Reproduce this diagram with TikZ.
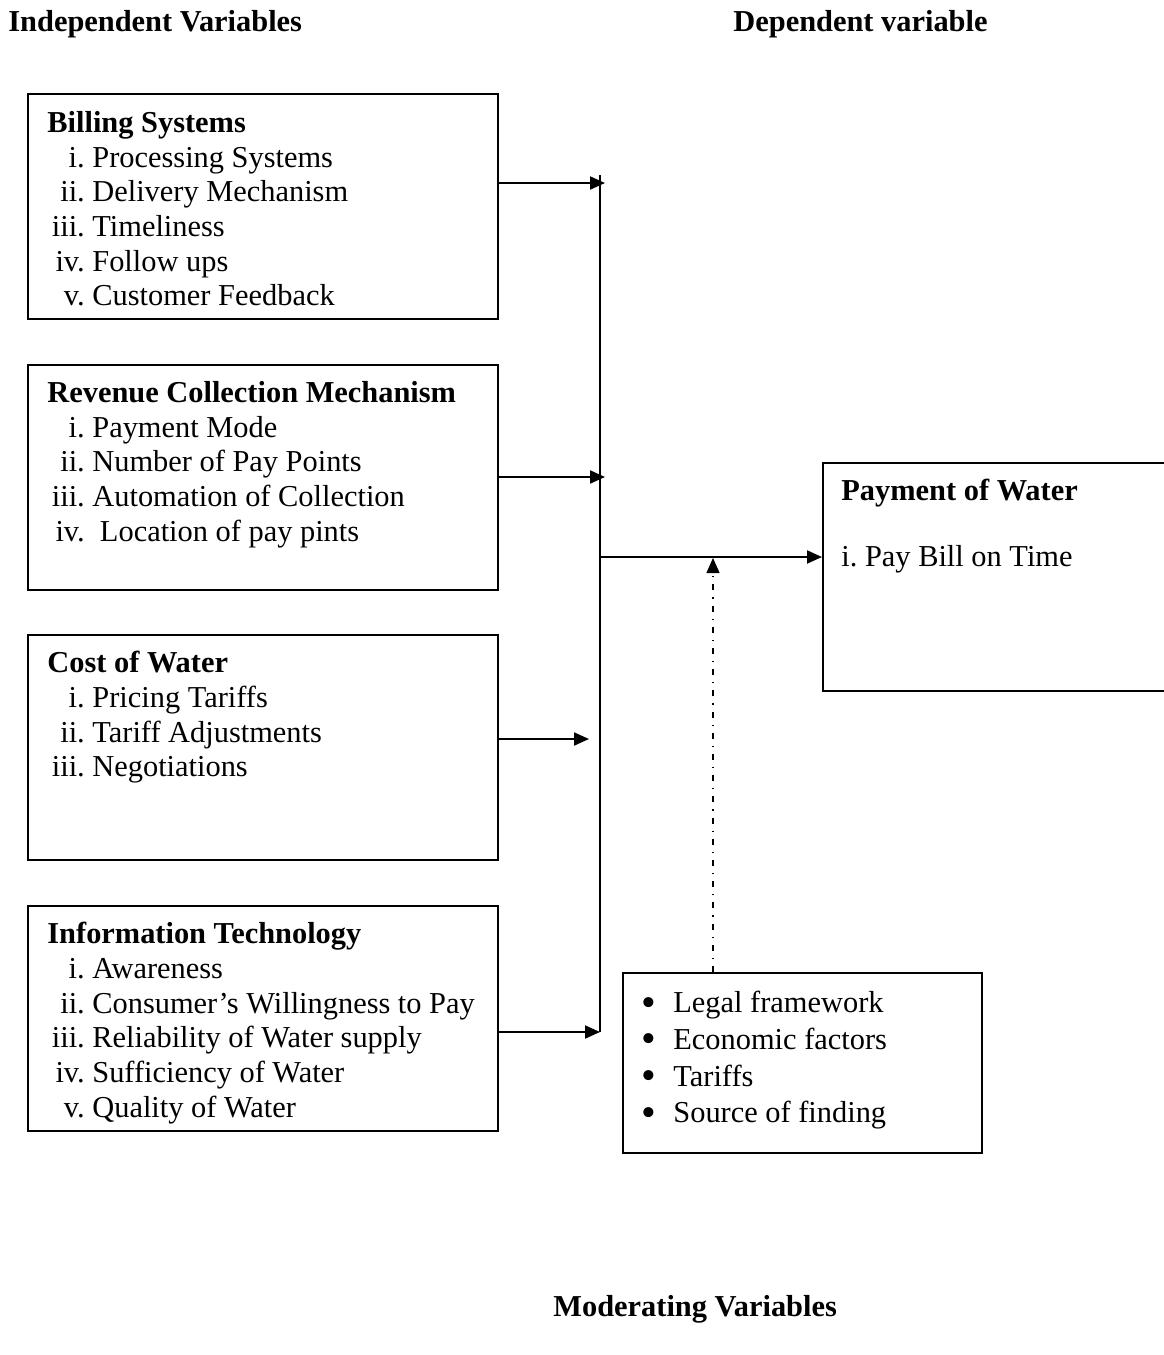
\documentclass[tikz,border=0pt]{standalone}
\usepackage{fontspec}
\setmainfont{Liberation Serif}
\usetikzlibrary{arrows.meta}
\newcommand{\rn}[2]{\makebox[1.23em][r]{#1}\ #2}
\newcommand{\bul}{\makebox[16pt][l]{\smash{\raisebox{-1.6pt}{\fontsize{21}{21}\selectfont\textbullet}}}}
\tikzset{
  varbox/.style={draw, line width=1pt, anchor=north west, inner sep=0pt,
    minimum width=235pt, minimum height=112.5pt},
  boxtxt/.style={anchor=north west, align=left, inner sep=0pt,
    font=\fontsize{15.2}{17.35}\selectfont},
  heading/.style={anchor=base west, inner sep=0pt,
    font=\fontsize{15.2}{17.35}\selectfont\bfseries},
  arr/.style={line width=1pt, -{Triangle[length=7.5pt,width=6.5pt]}},
  modarr/.style={line width=0.6pt, dash pattern=on 3pt off 3.5pt on 0.6pt off 3.5pt,
    -{Triangle[length=7.5pt,width=6.5pt]}}
}
\begin{document}
\begin{tikzpicture}[x=0.5pt, y=-0.5pt]
  \useasboundingbox (0,0) rectangle (1163,1355);
  % titles
  \node[heading] (indep) at (8,31) {Independent Variables};
  \node[heading] (dep) at (733,31) {Dependent variable};
  \node[heading] (moderating) at (553,1316) {Moderating Variables};
  % independent variable boxes
  \node[varbox] (bill) at (27,93) {};
  \node[varbox] (revenue) at (27,364) {};
  \node[varbox] (cost) at (27,634) {};
  \node[varbox] (infotech) at (27,905) {};
  \node[boxtxt] (billtxt) at ([shift={(20,18)}]bill.north west)
    {\textbf{Billing Systems}\\ \rn{i.}{Processing Systems}\\ \rn{ii.}{Delivery Mechanism}\\
     \rn{iii.}{Timeliness}\\ \rn{iv.}{Follow ups}\\ \rn{v.}{Customer Feedback}};
  \node[boxtxt] (revenuetxt) at ([shift={(20,17)}]revenue.north west)
    {\textbf{Revenue Collection Mechanism}\\ \rn{i.}{Payment Mode}\\ \rn{ii.}{Number of Pay Points}\\
     \rn{iii.}{Automation of Collection}\\ \rn{iv.}{\ Location of pay pints}};
  \node[boxtxt] (costtxt) at ([shift={(20,17)}]cost.north west)
    {\textbf{Cost of Water}\\ \rn{i.}{Pricing Tariffs}\\ \rn{ii.}{Tariff Adjustments}\\
     \rn{iii.}{Negotiations}};
  \node[boxtxt] (infotechtxt) at ([shift={(20,17)}]infotech.north west)
    {\textbf{Information Technology}\\ \rn{i.}{Awareness}\\ \rn{ii.}{Consumer's Willingness to Pay}\\
     \rn{iii.}{Reliability of Water supply}\\ \rn{iv.}{Sufficiency of Water}\\ \rn{v.}{Quality of Water}};
  % dependent and moderating boxes
  \node[varbox, minimum width=172pt, minimum height=114pt] (pay) at (822,462) {};
  \node[boxtxt] (paytxt) at ([shift={(19,17)}]pay.north west)
    {\textbf{Payment of Water}\\[15.6pt] i.\ Pay Bill on Time};
  \node[varbox, minimum width=179.5pt, minimum height=90pt] (moder) at (622,972) {};
  \node[boxtxt] (modertxt) at ([shift={(19,19)}]moder.north west)
    {\bul Legal framework\\[1pt] \bul Economic factors\\[1pt] \bul Tariffs\\[1pt] \bul Source of finding};
  % junction points
  \coordinate (jtop) at (600,175);
  \coordinate (jbot) at (600,1032);
  \coordinate (t1) at (605,183);
  \coordinate (t2) at (605,477);
  \coordinate (t3) at (589,739);
  \coordinate (t4) at (600,1032);
  \coordinate (jmid) at (600,557);
  \coordinate (mtip) at (713,558);
  \begin{scope}[line width=1pt]
    \draw (jtop) -- (jbot);
    \draw[arr] (bill.east |- t1) -- (t1);
    \draw[arr] (revenue.east |- t2) -- (t2);
    \draw[arr] (cost.east |- t3) -- (t3);
    \draw[arr] (infotech.east |- t4) -- (t4);
    \draw[arr] (jmid) -- (pay.west |- jmid);
    \draw[modarr] (mtip |- moder.north) -- (mtip);
  \end{scope}
\end{tikzpicture}
\end{document}
